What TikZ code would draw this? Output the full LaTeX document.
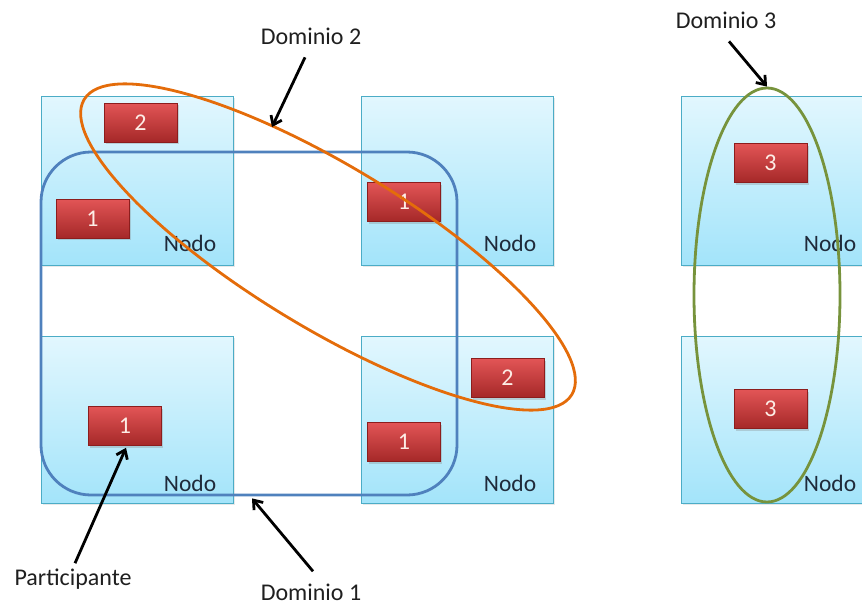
\documentclass[tikz,border=0pt]{standalone}
\usepackage{fontspec}
\setmainfont{Carlito}
\usetikzlibrary{arrows.meta,shapes.geometric,shadows}
\definecolor{boxtop}{HTML}{E2F7FE}
\definecolor{boxbot}{HTML}{A3E4FA}
\definecolor{boxline}{HTML}{4BACC6}
\definecolor{parttop}{HTML}{E25556}
\definecolor{partbot}{HTML}{A52828}
\definecolor{partline}{HTML}{8C1D1D}
\definecolor{partink}{HTML}{FDEDE6}
\definecolor{domone}{HTML}{4F81BD}
\definecolor{domtwo}{HTML}{E46C0A}
\definecolor{domthree}{HTML}{77933C}
\definecolor{inktext}{HTML}{1F2A3A}
\begin{document}
\begin{tikzpicture}[x=1pt,y=-1pt,
  nodebox/.style={draw=boxline, line width=0.8pt, top color=boxtop, bottom color=boxbot,
    minimum width=192pt, inner sep=0pt,
    drop shadow={opacity=0.18, shadow xshift=1.5pt, shadow yshift=-2pt}},
  part/.style={draw=partline, line width=0.6pt, top color=parttop, bottom color=partbot,
    minimum width=73pt, minimum height=39pt, inner sep=0pt, text=partink,
    font=\fontsize{24}{24}\selectfont,
    drop shadow={opacity=0.3, shadow xshift=1.5pt, shadow yshift=-2pt}},
  nodolbl/.style={anchor=base east, text=inktext, font=\fontsize{23.5}{24}\selectfont, inner sep=0pt},
  caption/.style={anchor=base, text=black!88, font=\fontsize{24}{24}\selectfont, inner sep=0pt},
  domring/.style={line width=2.8pt, inner sep=0pt},
  pointer/.style={draw=black, line width=2.8pt, -{Straight Barb[length=8pt,width=12pt]}}
]
\clip (0,0) rectangle (862,605);

% host nodes
\node[nodebox, minimum height=169pt] (nTL) at (137,180.5) {};
\node[nodebox, minimum height=169pt] (nTM) at (457,180.5) {};
\node[nodebox, minimum height=169pt] (nTR) at (777,180.5) {};
\node[nodebox, minimum height=167pt] (nBL) at (137,419.5) {};
\node[nodebox, minimum height=167pt] (nBM) at (457,419.5) {};
\node[nodebox, minimum height=167pt] (nBR) at (777,419.5) {};

% participants
\node[part] (pTL2) at (140.5,122.5) {2};
\node[part] (pTL1) at (92.5,218.5) {1};
\node[part] (pTM1) at (404,202) {1};
\node[part] (pBM2) at (507.5,378) {2};
\node[part] (pBM1) at (404,442) {1};
\node[part] (pBL1) at (125,426) {1};
\node[part] (pTR3) at (770.5,163) {3};
\node[part] (pBR3) at (770.5,409) {3};

% node captions
\node[nodolbl] (tTL) at ([xshift=-17pt,yshift=14pt]nTL.south east) {Nodo};
\node[nodolbl] (tTM) at ([xshift=-17pt,yshift=14pt]nTM.south east) {Nodo};
\node[nodolbl] (tTR) at ([xshift=-17pt,yshift=14pt]nTR.south east) {Nodo};
\node[nodolbl] (tBL) at ([xshift=-17pt,yshift=12pt]nBL.south east) {Nodo};
\node[nodolbl] (tBM) at ([xshift=-17pt,yshift=12pt]nBM.south east) {Nodo};
\node[nodolbl] (tBR) at ([xshift=-17pt,yshift=12pt]nBR.south east) {Nodo};

% domains
\node[domring, draw=domone, rounded corners=50pt, minimum width=416pt, minimum height=343pt] (dom1) at (249,323.5) {};
\node[domring, draw=domtwo, ellipse, minimum width=570pt, minimum height=162pt, rotate=-31.2] (dom2) at (328,247) {};
\node[domring, draw=domthree, ellipse, minimum width=146pt, minimum height=414pt] (dom3) at (767,295) {};
\coordinate (d2tip) at (272,127);

% captions
\node[caption] (l2) at (311,44) {Dominio 2};
\node[caption] (l3) at (726,28) {Dominio 3};
\node[caption] (l1) at (311,600) {Dominio 1};
\node[caption] (lp) at (73,585) {Participante};

% pointers
\draw[pointer] ([shift={(-6,13)}]l2.south) -- (d2tip);
\draw[pointer] ([shift={(3,13)}]l3.south) -- (dom3.north);
\draw[pointer] ([shift={(2,-12)}]l1.north) -- ([shift={(3,2)}]dom1.south);
\draw[pointer] ([shift={(2,-5)}]lp.north) -- ([shift={(1,2)}]pBL1.south);
\end{tikzpicture}
\end{document}
